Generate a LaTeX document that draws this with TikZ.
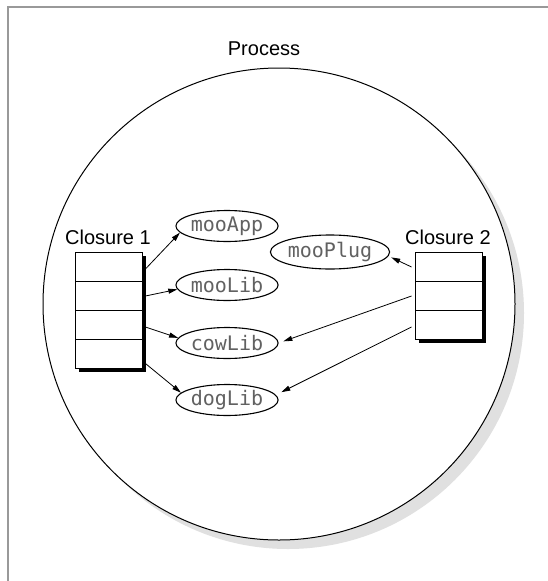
\documentclass[tikz,border=0pt]{standalone}
\usepackage{fontspec}
\setmainfont{Liberation Sans}
\newfontfamily\libmono{DejaVu Sans Mono}
\usetikzlibrary{shapes.geometric,shadows,calc,arrows.meta}
\begin{document}
\begin{tikzpicture}[x=1pt,y=-1pt,
  lib/.style={ellipse,draw,line width=1.1pt,fill=white,inner sep=0pt,
    minimum width=100pt,minimum height=31pt,
    font=\libmono\fontsize{20}{20}\selectfont,text=black!62},
  cell/.style={rectangle,draw,line width=0.9pt,fill=white,
    minimum width=67pt,minimum height=29pt,inner sep=0pt,
    drop shadow={shadow xshift=3.5pt,shadow yshift=-3.5pt,fill=black,opacity=1}},
  lbl/.style={font=\fontsize{20}{20}\selectfont,inner sep=0pt},
  arr/.style={-{Triangle[length=9pt,width=5pt]},line width=0.8pt},
]
\useasboundingbox (0,0) rectangle (548,581);
\fill[white] (0,0) rectangle (548,581);
\draw[line width=1.5pt,black!40] (8,581) -- (8,7) -- (548,7);

\node[circle,draw,line width=1pt,fill=white,minimum size=472pt,inner sep=0pt,
  drop shadow={shadow xshift=9pt,shadow yshift=-9pt,fill=black!12,opacity=1}] (process) at (279,304) {};
\node[lbl,anchor=base] (proclabel) at (264,55) {Process};

\node[lbl,anchor=base west] (c1label) at (65,244) {Closure 1};
\node[lbl,anchor=base west] (c2label) at (405,244) {Closure 2};

\node[cell] (c1r1) at (108.5,266.5) {};
\node[cell] (c1r2) at (108.5,295.5) {};
\node[cell] (c1r3) at (108.5,324.5) {};
\node[cell] (c1r4) at (108.5,353.5) {};

\node[cell] (c2r1) at (448.5,266.5) {};
\node[cell] (c2r2) at (448.5,295.5) {};
\node[cell] (c2r3) at (448.5,324.5) {};

\node[lib] (mooApp) at (227,226) {mooApp};
\node[lib] (mooLib) at (227,285) {mooLib};
\node[lib] (cowLib) at (227,343) {cowLib};
\node[lib] (dogLib) at (227,400) {dogLib};
\node[lib,minimum width=110pt,minimum height=34pt] (mooPlug) at (330,252) {mooPlug};

\draw[arr] ($(c1r1.east)+(3,2.5)$) -- (mooApp.188);
\draw[arr] ($(c1r2.east)+(3,0.5)$) -- (mooLib.185);
\draw[arr] ($(c1r3.east)+(3,2.5)$) -- (cowLib.174);
\draw[arr] ($(c1r4.east)+(3,10)$) -- (dogLib.171);

\draw[arr,shorten >=3pt] ($(c2r1.west)+(-3,0.5)$) -- (mooPlug.356);
\draw[arr,shorten >=5pt] ($(c2r2.west)+(-3,0.5)$) -- (cowLib.east);
\draw[arr,shorten >=6pt] ($(c2r3.west)+(-3,2.5)$) -- (dogLib.6);
\end{tikzpicture}
\end{document}
